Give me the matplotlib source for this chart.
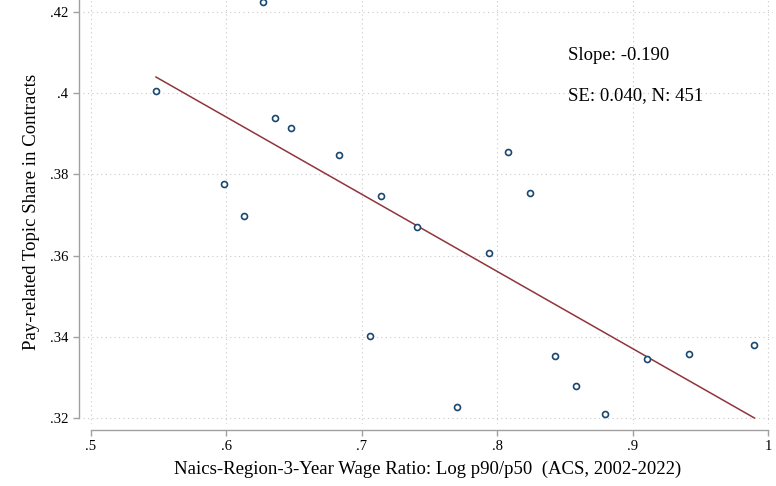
import matplotlib
matplotlib.use("Agg")
import matplotlib.pyplot as plt
import numpy as np

# binned scatter values
wage_ratio = [0.548, 0.627, 0.598, 0.613, 0.636, 0.648, 0.683, 0.714, 0.741, 0.706,
              0.770, 0.794, 0.808, 0.824, 0.843, 0.858, 0.880, 0.911, 0.942, 0.990]
pay_share = [0.4005, 0.4225, 0.3776, 0.3698, 0.3939, 0.3914, 0.3848, 0.3747, 0.3670, 0.3402,
             0.3227, 0.3606, 0.3855, 0.3754, 0.3353, 0.3279, 0.3210, 0.3345, 0.3358, 0.3380]

fit_slope = -0.190
fit_intercept = 0.5081
fit_range = [0.548, 0.990]

xticks = [0.5, 0.6, 0.7, 0.8, 0.9, 1.0]
xticklabels = [".5", ".6", ".7", ".8", ".9", "1"]
yticks = [0.32, 0.34, 0.36, 0.38, 0.40, 0.42]
yticklabels = [".32", ".34", ".36", ".38", ".4", ".42"]

plt.rcParams['font.family'] = ['Liberation Serif', 'DejaVu Serif']

fig = plt.figure(figsize=(7.76, 4.86), dpi=100)
ax = fig.add_axes([0.1068, 0.1274, 0.8898, 0.8722])

ax.set_xlim(0.494, 1.004)
ax.set_ylim(0.3185, 0.4229)

ax.grid(True, linestyle=(0, (1, 3)), color='#c8c8c8', linewidth=0.8)
ax.set_axisbelow(True)

fx = np.array(fit_range)
ax.plot(fx, fit_intercept + fit_slope * fx, color='#90353b', linewidth=1.1, zorder=2)
ax.plot(wage_ratio, pay_share, 'o', markerfacecolor='white', markeredgecolor='#1a476f',
        markersize=4.3, markeredgewidth=1.2, clip_on=False, zorder=3)

ax.text(0.8523, 0.4094, "Slope: -0.190", fontsize=13.5, va='center', ha='left')
ax.text(0.8523, 0.3995, "SE: 0.040, N: 451", fontsize=13.5, va='center', ha='left')

for s in ['top', 'right']:
    ax.spines[s].set_visible(False)
ax.spines['left'].set_position(('outward', 3))
ax.spines['bottom'].set_position(('outward', 4.3))
ax.spines['left'].set_bounds(0.32, 0.4229)
ax.spines['bottom'].set_bounds(0.5, 1.0)
for s in ['left', 'bottom']:
    ax.spines[s].set_color('#a0a0a0')
    ax.spines[s].set_linewidth(1.0)

ax.set_xticks(xticks)
ax.set_xticklabels(xticklabels)
ax.set_yticks(yticks)
ax.set_yticklabels(yticklabels)
ax.tick_params(axis='both', direction='out', length=4.5, width=1.0, color='#a0a0a0',
               labelsize=10.5, pad=3)

ax.set_xlabel("Naics-Region-3-Year Wage Ratio: Log p90/p50  (ACS, 2002-2022)", fontsize=13.5, labelpad=5)
ax.set_ylabel("Pay-related Topic Share in Contracts", fontsize=13.5, labelpad=7)

fig.savefig("out.png", dpi=100)
